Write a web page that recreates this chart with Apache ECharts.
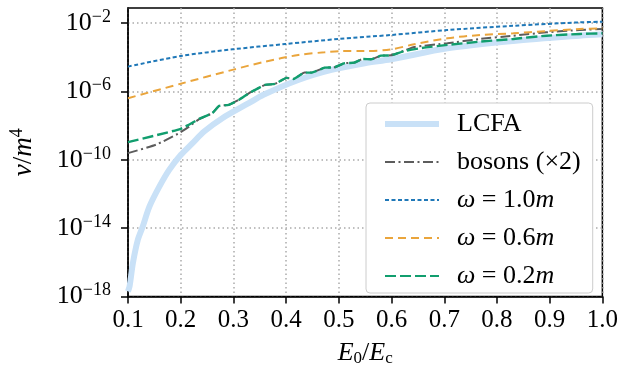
<!DOCTYPE html>
<html>
<head>
<meta charset="utf-8">
<script src="https://cdn.jsdelivr.net/npm/echarts@6/dist/echarts.min.js"></script>
<style>
html,body{margin:0;padding:0;background:#fff;}
#chart{width:621px;height:372px;}
</style>
</head>
<body>
<div id="chart"></div>
<script>
/*
 * nu/m^4 against E0/Ec, log y axis
 * values are stored as log10(nu/m^4)
 */
var xTicks = [0.1, 0.2, 0.3, 0.4, 0.5, 0.6, 0.7, 0.8, 0.9, 1.0];
var yTicks = [-18, -14, -10, -6, -2];

// [E0/Ec, log10 nu]
var lcfa = [[0.1,-17.7],[0.103,-17.4],[0.1094,-16.03],[0.1188,-14.67],[0.128,-13.9],[0.1408,-12.73],
    [0.1597,-11.56],[0.1785,-10.58],[0.2004,-9.71],[0.2224,-9.03],[0.2444,-8.35],[0.279,-7.57],
    [0.329,-6.69],[0.357,-6.2],[0.423,-5.33],[0.486,-4.74],[0.549,-4.35],[0.599,-4.12],[0.706,-3.48],
    [0.831,-3.05],[0.957,-2.74],[1.0,-2.66]];
var bosons = [[0.1,-9.61],[0.153,-9.12],[0.197,-8.44],[0.216,-8.06],[0.235,-7.62],[0.26,-7.27],
    [0.273,-6.85],[0.291,-6.79],[0.31,-6.5],[0.329,-6.11],[0.335,-6.01],[0.36,-5.62],[0.379,-5.56],
    [0.401,-5.21],[0.414,-5.27],[0.435,-4.9],[0.448,-4.9],[0.473,-4.61],[0.492,-4.59],[0.511,-4.35],
    [0.529,-4.32],[0.546,-4.1],[0.561,-4.12],[0.58,-3.91],[0.599,-3.89],[0.624,-3.62],[0.643,-3.4],
    [0.706,-3.18],[0.768,-2.93],[0.831,-2.74],[0.894,-2.54],[0.957,-2.41],[1.0,-2.35]];
var omega10 = [[0.1,-4.55],[0.2,-3.93],[0.298,-3.54],[0.398,-3.23],[0.499,-2.93],[0.599,-2.7],
    [0.706,-2.41],[0.831,-2.16],[0.957,-1.96],[1.0,-1.92]];
var omega06 = [[0.1,-6.4],[0.2,-5.55],[0.298,-4.74],[0.36,-4.26],[0.423,-3.87],[0.473,-3.71],
    [0.505,-3.64],[0.548,-3.64],[0.599,-3.54],[0.643,-3.24],[0.706,-2.89],[0.768,-2.7],[0.831,-2.6],
    [0.894,-2.47],[0.957,-2.35],[1.0,-2.31]];
var omega02 = [[0.1,-8.97],[0.2,-8.19],[0.235,-7.61],[0.26,-7.27],[0.273,-6.85],[0.291,-6.79],
    [0.31,-6.5],[0.329,-6.11],[0.335,-6.01],[0.36,-5.62],[0.379,-5.56],[0.401,-5.21],[0.414,-5.27],
    [0.435,-4.9],[0.448,-4.9],[0.473,-4.61],[0.492,-4.59],[0.511,-4.35],[0.529,-4.32],[0.546,-4.1],
    [0.561,-4.12],[0.58,-3.91],[0.599,-3.89],[0.624,-3.64],[0.662,-3.44],[0.706,-3.28],[0.768,-3.09],
    [0.831,-2.93],[0.894,-2.74],[0.957,-2.64],[1.0,-2.6]];

var seriesNames = ['LCFA', 'bosons (×2)', 'ω = 1.0m', 'ω = 0.6m', 'ω = 0.2m'];
var legendText = {
    'LCFA': 'LCFA',
    'bosons (×2)': 'bosons (×2)',
    'ω = 1.0m': '{i|ω} = 1.0{i|m}',
    'ω = 0.6m': '{i|ω} = 0.6{i|m}',
    'ω = 0.2m': '{i|ω} = 0.2{i|m}'
};
var legendData = seriesNames.map(function (n) {
    return n === 'LCFA' ? { name: n, lineStyle: { width: 6 } } : { name: n };
});

var serif = 'Liberation Serif';
var dom = document.getElementById("chart");
var myChart = echarts.init(dom);
var option = {
    animation: false,
    grid: {
        left: 125, right: 18, top: 8, bottom: 75,
        show: true, borderColor: '#000', borderWidth: 1.5
    },
    legend: {
        orient: 'vertical',
        left: 366, top: 103,
        itemWidth: 54, itemHeight: 8,
        itemGap: 12,
        padding: [8, 12, 4, 16],
        backgroundColor: '#fff',
        borderColor: '#cccccc',
        borderWidth: 1,
        borderRadius: 4,
        itemStyle: { opacity: 0 },
        data: legendData,
        formatter: function (name) { return legendText[name]; },
        textStyle: {
            fontFamily: serif, fontSize: 26, color: '#000',
            padding: [0, 0, 0, 13],
            rich: { i: { fontFamily: serif, fontStyle: 'italic', fontSize: 26 } }
        }
    },
    xAxis: {
        type: 'value',
        min: 0.1, max: 1.0, interval: 0.1,
        name: '{i|E}{s|0}/{i|E}{s|c}',
        nameLocation: 'middle',
        nameGap: 42,
        nameTextStyle: {
            fontFamily: serif, fontSize: 26, color: '#000',
            rich: {
                i: { fontFamily: serif, fontStyle: 'italic', fontSize: 26, lineHeight: 30 },
                s: { fontFamily: serif, fontSize: 17, lineHeight: 30, padding: [10, 0, 0, 0] }
            }
        },
        axisLine: { lineStyle: { color: '#000', width: 1.5 } },
        axisTick: { show: true, length: 7, lineStyle: { color: '#000', width: 1.5 } },
        axisLabel: {
            margin: 11,
            fontFamily: serif, fontSize: 25, color: '#000',
            formatter: function (v) { return v.toFixed(1); }
        },
        splitLine: { show: true, lineStyle: { color: '#aaaaaa', width: 1.5, type: [1.5, 3] } }
    },
    yAxis: {
        type: 'value',
        min: -18, max: -1.12, interval: 4,
        name: '{i|ν}/{i|m}{s|4}',
        nameLocation: 'middle',
        nameGap: 88,
        nameRotate: 90,
        nameTextStyle: {
            fontFamily: serif, fontSize: 27, color: '#000',
            rich: {
                i: { fontFamily: serif, fontStyle: 'italic', fontSize: 27, lineHeight: 32 },
                s: { fontFamily: serif, fontSize: 18, lineHeight: 18, verticalAlign: 'top' }
            }
        },
        axisLine: { show: true, lineStyle: { color: '#000', width: 1.5 } },
        axisTick: { show: true, length: 7, customValues: yTicks, lineStyle: { color: '#000', width: 1.5 } },
        axisLabel: {
            margin: 17,
            customValues: yTicks,
            formatter: function (v) {
                if (yTicks.indexOf(v) < 0) return '';
                return '{b|10}{s|−' + Math.abs(v) + '}';
            },
            rich: {
                b: { fontFamily: serif, fontSize: 26, color: '#000', lineHeight: 30 },
                s: { fontFamily: serif, fontSize: 18, color: '#000', lineHeight: 18, verticalAlign: 'top' }
            }
        },
        splitLine: { show: true, lineStyle: { color: '#aaaaaa', width: 1.5, type: [1.5, 3] } }
    },
    series: [
        { name: 'LCFA', type: 'line', data: lcfa, showSymbol: false, symbol: 'none', smooth: 0.3,
          lineStyle: { color: '#c9e1f7', width: 6 }, itemStyle: { color: '#c9e1f7' } },
        { name: 'bosons (×2)', type: 'line', data: bosons, showSymbol: false, symbol: 'none', smooth: 0.15,
          lineStyle: { color: '#5c5c5c', width: 2, type: [10, 3.5, 2, 3.5] }, itemStyle: { color: '#5c5c5c' } },
        { name: 'ω = 1.0m', type: 'line', data: omega10, showSymbol: false, symbol: 'none', smooth: 0.3,
          lineStyle: { color: '#1f78b8', width: 2, type: [4, 2.5] }, itemStyle: { color: '#1f78b8' } },
        { name: 'ω = 0.6m', type: 'line', data: omega06, showSymbol: false, symbol: 'none', smooth: 0.3,
          lineStyle: { color: '#eaa53c', width: 2, type: [8, 5] }, itemStyle: { color: '#eaa53c' } },
        { name: 'ω = 0.2m', type: 'line', data: omega02, showSymbol: false, symbol: 'none', smooth: 0.15,
          lineStyle: { color: '#119e6e', width: 2.4, type: [11, 4] }, itemStyle: { color: '#119e6e' } }
    ]
};
if (option && typeof option === "object") {
    myChart.setOption(option);
}
</script>
</body>
</html>
